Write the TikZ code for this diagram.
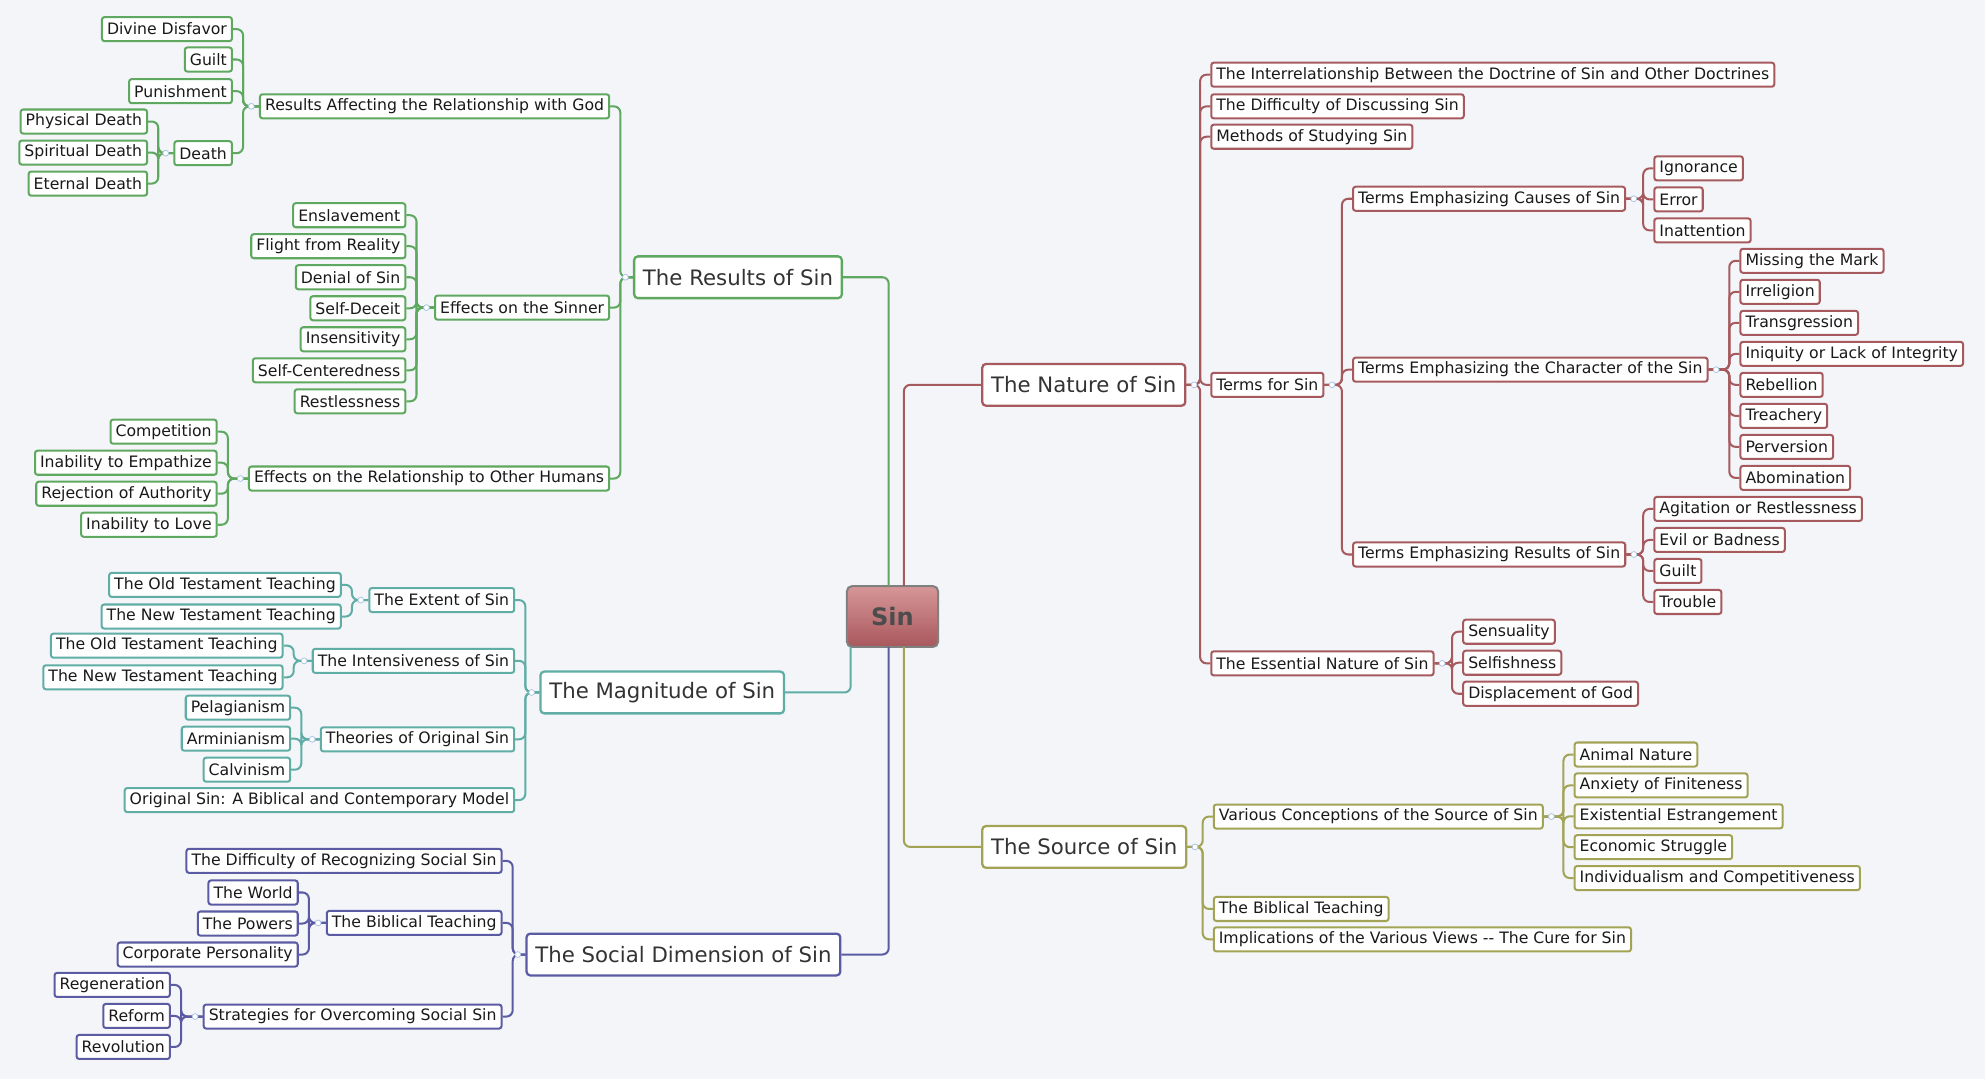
\documentclass[tikz,border=0pt]{standalone}
\usepackage{fontspec}
\setmainfont{DejaVu Sans}
\begin{document}
\begin{tikzpicture}[x=1pt,y=-1pt]
\definecolor{nat}{HTML}{A65A5E}
\definecolor{src}{HTML}{A3A356}
\definecolor{res}{HTML}{5FA85F}
\definecolor{mag}{HTML}{5FADA5}
\definecolor{soc}{HTML}{5B5BA3}
\definecolor{bg}{HTML}{F3F5F9}
\definecolor{mk}{HTML}{A9C3E3}
\fill[bg] (0,0) rectangle (1568,852);
\useasboundingbox (0,0) rectangle (1568,852);
\tikzset{
 leaf/.style={draw=#1,fill=white,line width=1.6pt,rounded corners=2pt,font=\fontsize{12.4}{14}\selectfont,text=black!90,inner xsep=4pt,inner ysep=1pt,minimum height=19pt},
 mainb/.style={draw=#1,fill=white,line width=1.8pt,rounded corners=3pt,font=\fontsize{16.8}{19}\selectfont,text=black!80,inner xsep=7pt,minimum height=33pt},
 ln/.style={draw=#1,line width=1.6pt,rounded corners=5pt},
}
\newcommand\conR[3]{\path ([xshift=-8pt]#3.west) coordinate (tmp); \draw[ln=#1] (#2.east) -- (tmp |- #2.east) |- (#3.west);}
\newcommand\conL[3]{\path ([xshift=8pt]#3.east) coordinate (tmp); \draw[ln=#1] (#2.west) -- (tmp |- #2.west) |- (#3.east);}
\newcommand\mkR[1]{\draw[mk,line width=0.6pt,fill=white] ([xshift=6pt]#1.east) circle (2.3pt);}
\newcommand\mkL[1]{\draw[mk,line width=0.6pt,fill=white] ([xshift=-6pt]#1.west) circle (2.3pt);}

% center
\node[draw=black!50,line width=1.6pt,rounded corners=4pt,top color={rgb,255:red,214;green,150;blue,152},bottom color={rgb,255:red,168;green,88;blue,92},minimum width=72pt,minimum height=48pt,font=\fontsize{19}{22}\selectfont\bfseries,text=black!70] (sin) at (705,487) {Sin};

% main branches
\node[mainb=nat,anchor=west] (nat) at (775,304) {The Nature of Sin};
\node[mainb=src,anchor=west] (src) at (775,669) {The Source of Sin};
\node[mainb=res,anchor=west] (res) at (500,219) {The Results of Sin};
\node[mainb=mag,anchor=west] (mag) at (426,547) {The Magnitude of Sin};
\node[mainb=soc,anchor=west] (soc) at (415,754) {The Social Dimension of Sin};

\draw[ln=nat] (714,463) |- (nat.west);
\draw[ln=src] (714,511) |- (src.west);
\draw[ln=res] (702,463) |- (res.east);
\draw[ln=mag] (672,511) |- (mag.east);
\draw[ln=soc] (702,511) |- (soc.east);

% Nature
\node[leaf=nat,anchor=west] (n1) at (956,59) {The Interrelationship Between the Doctrine of Sin and Other Doctrines};
\node[leaf=nat,anchor=west] (n2) at (956,84) {The Difficulty of Discussing Sin};
\node[leaf=nat,anchor=west] (n3) at (956,108) {Methods of Studying Sin};
\node[leaf=nat,anchor=west] (n4) at (956,304) {Terms for Sin};
\node[leaf=nat,anchor=west] (n5) at (956,524) {The Essential Nature of Sin};
\foreach \c in {n1,n2,n3,n4,n5} {\conR{nat}{nat}{\c}}
\node[leaf=nat,anchor=west] (t1) at (1068,157) {Terms Emphasizing Causes of Sin};
\node[leaf=nat,anchor=west] (t2) at (1068,292) {Terms Emphasizing the Character of the Sin};
\node[leaf=nat,anchor=west] (t3) at (1068,438) {Terms Emphasizing Results of Sin};
\foreach \c in {t1,t2,t3} {\conR{nat}{n4}{\c}}
\foreach \t [count=\i] in {Ignorance,Error,Inattention} {\node[leaf=nat,anchor=west] (a\i) at (1306,{133+(\i-1)*24.5}) {\t}; \conR{nat}{t1}{a\i}}
\foreach \t [count=\i] in {Missing the Mark,Irreligion,Transgression,Iniquity or Lack of Integrity,Rebellion,Treachery,Perversion,Abomination} {\node[leaf=nat,anchor=west] (b\i) at (1374,{206+(\i-1)*24.5}) {\t}; \conR{nat}{t2}{b\i}}
\foreach \t [count=\i] in {Agitation or Restlessness,Evil or Badness,Guilt,Trouble} {\node[leaf=nat,anchor=west] (c\i) at (1306,{402+(\i-1)*24.5}) {\t}; \conR{nat}{t3}{c\i}}
\foreach \t [count=\i] in {Sensuality,Selfishness,Displacement of God} {\node[leaf=nat,anchor=west] (d\i) at (1155,{499+(\i-1)*24.5}) {\t}; \conR{nat}{n5}{d\i}}
\mkR{nat}\mkR{n4}\mkR{t1}\mkR{t2}\mkR{t3}\mkR{n5}

% Source
\node[leaf=src,anchor=west] (s1) at (958,645) {Various Conceptions of the Source of Sin};
\node[leaf=src,anchor=west] (s2) at (958,718) {The Biblical Teaching};
\node[leaf=src,anchor=west] (s3) at (958,742) {Implications of the Various Views {-}{-} The Cure for Sin};
\foreach \c in {s1,s2,s3} {\conR{src}{src}{\c}}
\foreach \t [count=\i] in {Animal Nature,Anxiety of Finiteness,Existential Estrangement,Economic Struggle,Individualism and Competitiveness} {\node[leaf=src,anchor=west] (e\i) at (1243,{596+(\i-1)*24.4}) {\t}; \conR{src}{s1}{e\i}}
\mkR{src}\mkR{s1}

% Results
\node[leaf=res,anchor=east] (r1) at (482,84) {Results Affecting the Relationship with God};
\node[leaf=res,anchor=east] (r2) at (482,243) {Effects on the Sinner};
\node[leaf=res,anchor=east] (r3) at (482,378) {Effects on the Relationship to Other Humans};
\foreach \c in {r1,r2,r3} {\conL{res}{res}{\c}}
\node[leaf=res,anchor=east] (f1) at (184,23) {Divine Disfavor};
\node[leaf=res,anchor=east] (f2) at (184,47) {Guilt};
\node[leaf=res,anchor=east] (f3) at (184,72) {Punishment};
\node[leaf=res,anchor=east] (f4) at (184,121) {Death};
\foreach \c in {f1,f2,f3,f4} {\conL{res}{r1}{\c}}
\foreach \t [count=\i] in {Physical Death,Spiritual Death,Eternal Death} {\node[leaf=res,anchor=east] (g\i) at (117,{96+(\i-1)*24.5}) {\t}; \conL{res}{f4}{g\i}}
\foreach \t [count=\i] in {Enslavement,Flight from Reality,Denial of Sin,Self-Deceit,Insensitivity,Self-Centeredness,Restlessness} {\node[leaf=res,anchor=east] (h\i) at (321,{170+(\i-1)*24.5}) {\t}; \conL{res}{r2}{h\i}}
\foreach \t [count=\i] in {Competition,Inability to Empathize,Rejection of Authority,Inability to Love} {\node[leaf=res,anchor=east] (k\i) at (172,{341+(\i-1)*24.5}) {\t}; \conL{res}{r3}{k\i}}
\mkL{res}\mkL{r1}\mkL{f4}\mkL{r2}\mkL{r3}

% Magnitude
\node[leaf=mag,anchor=east] (m1) at (407,474) {The Extent of Sin};
\node[leaf=mag,anchor=east] (m2) at (407,522) {The Intensiveness of Sin};
\node[leaf=mag,anchor=east] (m3) at (407,584) {Theories of Original Sin};
\node[leaf=mag,anchor=east] (m4) at (407,632) {Original Sin: A Biblical and Contemporary Model};
\foreach \c in {m1,m2,m3,m4} {\conL{mag}{mag}{\c}}
\node[leaf=mag,anchor=east] (p1) at (270,462) {The Old Testament Teaching};
\node[leaf=mag,anchor=east] (p2) at (270,487) {The New Testament Teaching};
\foreach \c in {p1,p2} {\conL{mag}{m1}{\c}}
\node[leaf=mag,anchor=east] (q1) at (224,510) {The Old Testament Teaching};
\node[leaf=mag,anchor=east] (q2) at (224,535) {The New Testament Teaching};
\foreach \c in {q1,q2} {\conL{mag}{m2}{\c}}
\foreach \t [count=\i] in {Pelagianism,Arminianism,Calvinism} {\node[leaf=mag,anchor=east] (u\i) at (230,{559+(\i-1)*24.5}) {\t}; \conL{mag}{m3}{u\i}}
\mkL{mag}\mkL{m1}\mkL{m2}\mkL{m3}

% Social
\node[leaf=soc,anchor=east] (o1) at (397,680) {The Difficulty of Recognizing Social Sin};
\node[leaf=soc,anchor=east] (o2) at (397,729) {The Biblical Teaching};
\node[leaf=soc,anchor=east] (o3) at (397,803) {Strategies for Overcoming Social Sin};
\foreach \c in {o1,o2,o3} {\conL{soc}{soc}{\c}}
\foreach \t [count=\i] in {The World,The Powers,Corporate Personality} {\node[leaf=soc,anchor=east] (v\i) at (236,{705+(\i-1)*24.5}) {\t}; \conL{soc}{o2}{v\i}}
\foreach \t [count=\i] in {Regeneration,Reform,Revolution} {\node[leaf=soc,anchor=east] (w\i) at (135,{778+(\i-1)*24.5}) {\t}; \conL{soc}{o3}{w\i}}
\mkL{soc}\mkL{o2}\mkL{o3}
\end{tikzpicture}
\end{document}
